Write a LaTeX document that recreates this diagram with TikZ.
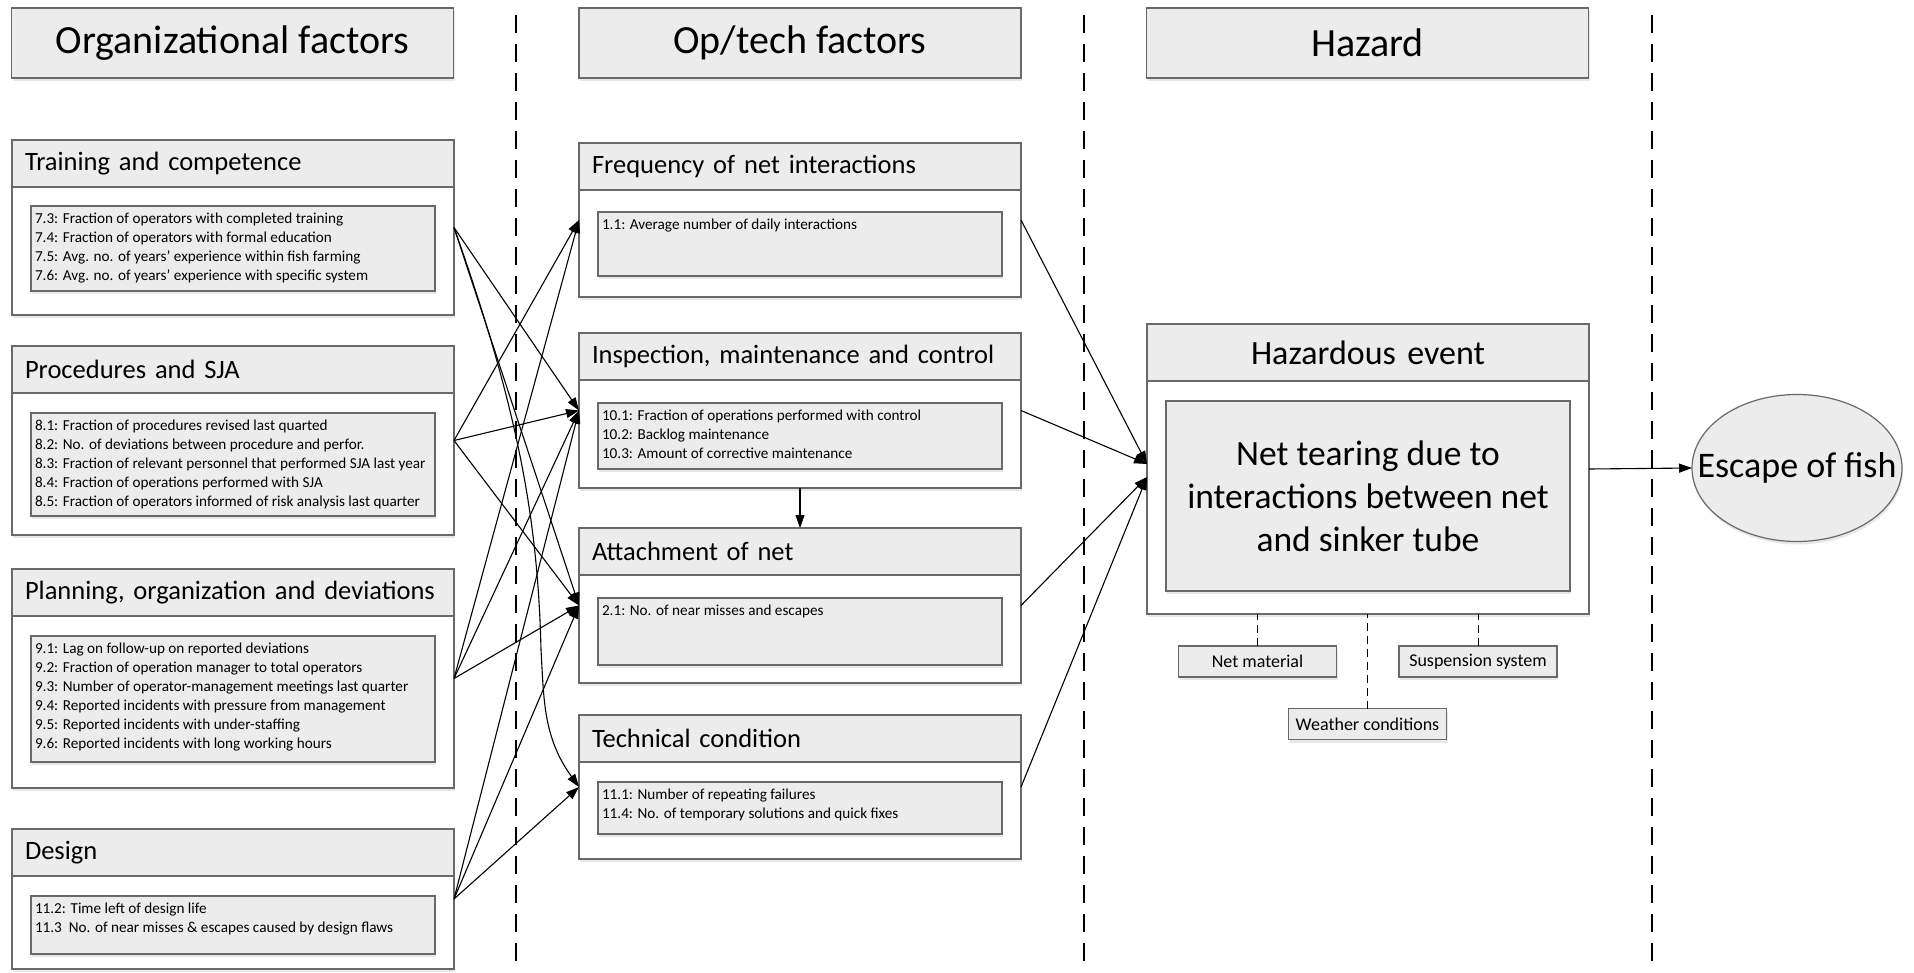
\documentclass[tikz,border=0pt]{standalone}
\usepackage{fontspec}
\setmainfont{Carlito}
\usetikzlibrary{arrows.meta,shadows,shapes.geometric}
\definecolor{boxfill}{RGB}{236,236,236}
\definecolor{boxline}{RGB}{105,105,105}

\begin{document}
\begin{tikzpicture}[x=1pt,y=-1pt,
	every node/.style={inner sep=0,outer sep=0},
	dropsh/.style={drop shadow={shadow xshift=1pt,shadow yshift=-3pt,opacity=0.18}},
	hdr/.style={draw=boxline,fill=boxfill,line width=1.2pt,dropsh,minimum width=442pt,minimum height=70pt,font=\fontsize{40}{47}\selectfont},
	grp/.style={draw=boxline,fill=white,line width=1.2pt,dropsh,minimum width=442pt},
	band/.style={draw=boxline,fill=boxfill,line width=1.2pt,anchor=north,text width=416pt,inner xsep=13pt,minimum height=47pt,align=left,font=\fontsize{26.5}{31}\selectfont},
	ibox/.style={draw=boxline,fill=boxfill,line width=1.2pt,dropsh,minimum width=404pt,anchor=north},
	items/.style={anchor=north west,xshift=4pt,yshift=-7pt,align=left,font=\fontsize{15.2}{19}\selectfont},
	tag/.style={draw=boxline,fill=boxfill,line width=1.2pt,dropsh,minimum width=158pt,minimum height=31pt,font=\fontsize{18}{22}\selectfont},
	arr/.style={-{Triangle[length=13pt,width=9pt]},line width=1.1pt},
	link/.style={dash pattern=on 8pt off 5pt,line width=1pt},
	div/.style={dash pattern=on 18pt off 11pt,line width=1.2pt}]
	\useasboundingbox (0,0) rectangle (1914,972);
	\foreach \x in {516,1084,1652} \draw[div] (\x,15) -- (\x,972);
	\node[hdr] (h1) at (232.5,43) {Organizational factors};
	\node[hdr] (h2) at (800,43) {Op/tech factors};
	\node[hdr] (h3) at (1367.5,43) {Hazard};
	\node[grp,minimum height=175pt] (o1) at (233,227.5) {};
	\node[band] at (o1.north) {Training and competence};
	\node[ibox,minimum height=85pt] (o1b) at (233,206) {};
	\node[items] at (o1b.north west) {7.3: Fraction of operators with completed training\\7.4: Fraction of operators with formal education\\7.5: Avg. no. of years’ experience within fish farming\\7.6: Avg. no. of years’ experience with specific system};
	\node[grp,minimum height=189pt] (o2) at (233,440.5) {};
	\node[band] at (o2.north) {Procedures and SJA};
	\node[ibox,minimum height=103pt] (o2b) at (233,413) {};
	\node[items] at (o2b.north west) {8.1: Fraction of procedures revised last quarted\\8.2: No. of deviations between procedure and perfor.\\8.3: Fraction of relevant personnel that performed SJA last year\\8.4: Fraction of operations performed with SJA\\8.5: Fraction of operators informed of risk analysis last quarter};
	\node[grp,minimum height=219pt] (o3) at (233,678.5) {};
	\node[band] at (o3.north) {Planning, organization and deviations};
	\node[ibox,minimum height=126pt] (o3b) at (233,636) {};
	\node[items] at (o3b.north west) {9.1: Lag on follow-up on reported deviations\\9.2: Fraction of operation manager to total operators\\9.3: Number of operator-management meetings last quarter\\9.4: Reported incidents with pressure from management\\9.5: Reported incidents with under-staffing\\9.6: Reported incidents with long working hours};
	\node[grp,minimum height=140pt] (o4) at (233,899) {};
	\node[band] at (o4.north) {Design};
	\node[ibox,minimum height=58pt] (o4b) at (233,896) {};
	\node[items] at (o4b.north west) {11.2: Time left of design life\\11.3\ \ No. of near misses \& escapes caused by design flaws};
	\node[grp,minimum height=154pt] (f1) at (800,220) {};
	\node[band] at (f1.north) {Frequency of net interactions};
	\node[ibox,minimum height=64pt] (f1b) at (800,212) {};
	\node[items] at (f1b.north west) {1.1: Average number of daily interactions};
	\node[grp,minimum height=155pt] (f2) at (800,410.5) {};
	\node[band] at (f2.north) {Inspection, maintenance and control};
	\node[ibox,minimum height=66pt] (f2b) at (800,403) {};
	\node[items] at (f2b.north west) {10.1: Fraction of operations performed with control\\10.2: Backlog maintenance\\10.3: Amount of corrective maintenance};
	\node[grp,minimum height=155pt] (f3) at (800,605.5) {};
	\node[band] at (f3.north) {Attachment of net};
	\node[ibox,minimum height=67pt] (f3b) at (800,598) {};
	\node[items] at (f3b.north west) {2.1: No. of near misses and escapes};
	\node[grp,minimum height=144pt] (f4) at (800,787) {};
	\node[band] at (f4.north) {Technical condition};
	\node[ibox,minimum height=52pt] (f4b) at (800,782) {};
	\node[items] at (f4b.north west) {11.1: Number of repeating failures\\11.4: No. of temporary solutions and quick fixes};
	\node[grp,minimum height=290pt] (h) at (1368,469) {};
	\node[band,minimum height=57pt,align=center,font=\fontsize{34}{40}\selectfont] at (h.north) {Hazardous event};
	\node[ibox,minimum height=190pt,align=center,font=\fontsize{35.5}{43}\selectfont] (hb) at (1368,401) {Net tearing due to\\interactions between net\\and sinker tube};
	\node[draw=boxline,fill=boxfill,line width=1.2pt,dropsh,ellipse,minimum width=210pt,minimum height=147pt] (e) at (1797,468) {};
	\node[font=\fontsize{36}{42}\selectfont] at (e.center) {Escape of fish};
	\node[tag] (n1) at (1257.5,661.5) {Net material};
	\node[tag] (n2) at (1367.5,724) {Weather conditions};
	\node[tag] (n3) at (1478,661.5) {Suspension system};
	\foreach \n in {n1,n2,n3} \draw[link] (\n.north) -- (\n.north |- h.south);
	\foreach \a/\b in {o1/f2,o1/f3,o2/f1,o2/f2,o2/f3,o3/f1,o3/f2,o3/f3,o4/f2,o4/f3,o4/f4} \draw[arr] (\a.east) -- (\b.west);
	\draw[arr] (o1.east) .. controls (518,408) and (538,520) .. (541,650) .. controls (544,700) and (543,737) .. (f4.west);
	\draw[arr] (f2.south) -- (f3.north);
	\draw[arr] (f1.east) -- ([yshift=5pt]h.west);
	\draw[arr] (f2.east) -- ([yshift=5pt]h.west);
	\draw[arr] (f3.east) -- ([yshift=-8pt]h.west);
	\draw[arr] (f4.east) -- ([yshift=-8pt]h.west);
	\draw[arr] (h.east) -- (e.west);
\end{tikzpicture}
\end{document}
